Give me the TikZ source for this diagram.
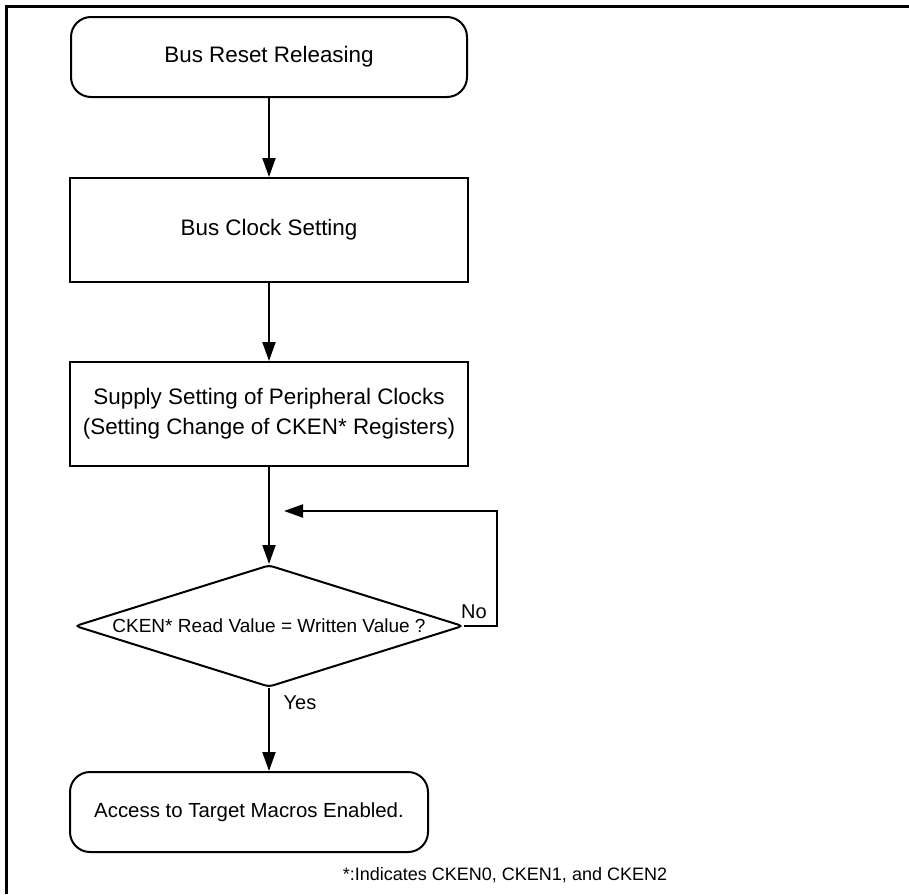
\documentclass[tikz,border=0pt]{standalone}
\usepackage{fontspec}
\setmainfont{Liberation Sans}
\usetikzlibrary{arrows.meta,shapes.geometric}
\begin{document}
\begin{tikzpicture}[x=1pt,y=-1pt,
  flow/.style={line width=2pt},
  arr/.style={flow,-{Triangle[length=19pt,width=13pt]}},
  stepbox/.style={draw,line width=2pt,rectangle,inner sep=0pt,align=center,
    font=\fontsize{22.4}{30}\selectfont},
  termbox/.style={stepbox,rounded corners=20pt},
  decision/.style={draw,line width=2pt,diamond,aspect=3.18,inner sep=0pt,
    rounded corners=4pt,font=\fontsize{19}{23}\selectfont},
  lbl/.style={inner sep=0pt,font=\fontsize{20}{24}\selectfont},
  notetext/.style={inner sep=0pt,font=\fontsize{18}{22}\selectfont}
]
\useasboundingbox (0,0) rectangle (909,894);

% outer frame (open to the right and bottom)
\draw[line width=3pt] (909,6.5) -- (6.5,6.5) -- (6.5,894);

% flow steps
\node[termbox, minimum width=396pt, minimum height=80pt] (start) at (269,57) {Bus Reset Releasing};
\node[stepbox, minimum width=398pt, minimum height=104pt] (clk) at (269,230) {Bus Clock Setting};
\node[stepbox, minimum width=398pt, minimum height=104pt] (sup) at (269,414)
  {Supply Setting of Peripheral Clocks\\(Setting Change of CKEN* Registers)};
\node[decision, minimum width=388pt, minimum height=122pt] (chk) at (269,626)
  {CKEN* Read Value = Written Value ?};
\node[termbox, minimum width=358pt, minimum height=80pt,
  font=\fontsize{20.4}{24}\selectfont] (acc) at (249,812) {Access to Target Macros Enabled.};

% branch labels and footnote
\node[lbl] (no) at (474,612) {No};
\node[lbl] (yes) at (300,703) {Yes};
\node[notetext] (note) at (505,875) {*:Indicates CKEN0, CKEN1, and CKEN2};

% connectors
\coordinate (loopend) at (284,511);
\draw[arr] (start.south) -- (clk.north);
\draw[arr] (clk.south) -- (sup.north);
\draw[arr] (sup.south) -- (chk.north);
\draw[arr] (chk.south) -- (chk.south |- acc.north);
\draw[arr] (chk.east) -- ++(33,0) |- (loopend);
\end{tikzpicture}
\end{document}
